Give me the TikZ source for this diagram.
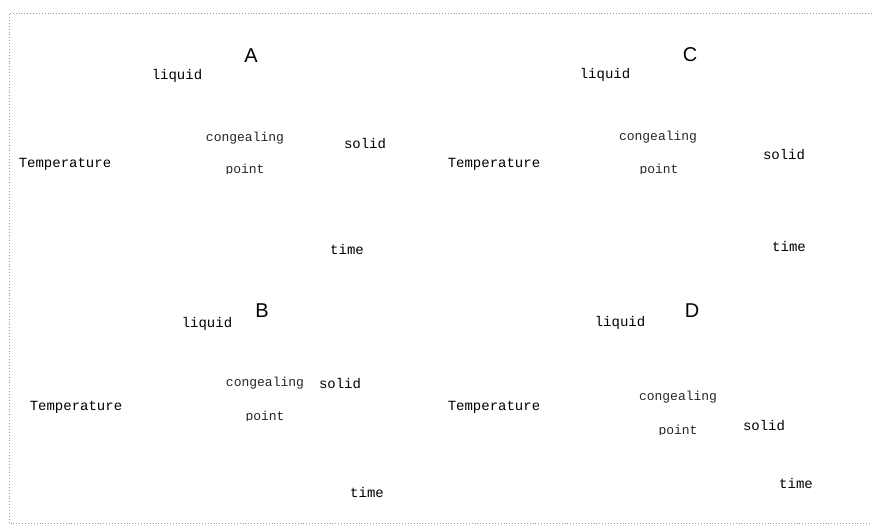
\documentclass[tikz,border=0pt]{standalone}
\usepackage{fontspec}
\setmainfont{Liberation Serif}
\newfontfamily\lblfont{Liberation Mono}
\newfontfamily\letfont{Liberation Sans}
\begin{document}
\begin{tikzpicture}[x=1pt,y=-1pt,
  lbl/.style={inner sep=0pt,font=\lblfont\fontsize{14}{16}\selectfont,text=black},
  smalllbl/.style={inner sep=0pt,font=\lblfont\fontsize{13}{15}\selectfont,text=black!85},
  letter/.style={inner sep=0pt,font=\letfont\fontsize{20}{22}\selectfont},
  frame/.style={draw=black!40,dotted,line width=0.9pt}]
\useasboundingbox (0,0) rectangle (872,526);
\draw[frame] (872,13) -- (9,13) -- (9,523) -- (872,523);
% ---------- A ----------
\node[letter] (lA) at (251,56) {A};
\node[lbl] (liqA) at (177,76) {liquid};
\node[smalllbl] (conA) at (245,138) {congealing};
\begin{scope}\clip (200,150) rectangle (290,174);
\node[smalllbl,anchor=base] (ptA) at (245,174) {point};
\end{scope}
\node[lbl] (solA) at (365,144) {solid};
\node[lbl] (tempA) at (65,164) {Temperature};
\node[lbl] (timeA) at (347,249) {time};
% ---------- C ----------
\node[letter] (lC) at (690,55) {C};
\node[lbl] (liqC) at (605,75) {liquid};
\node[smalllbl] (conC) at (658,137) {congealing};
\begin{scope}\clip (610,150) rectangle (710,174);
\node[smalllbl,anchor=base] (ptC) at (659,174) {point};
\end{scope}
\node[lbl] (solC) at (784,155) {solid};
\node[lbl] (tempC) at (494,164) {Temperature};
\node[lbl] (timeC) at (789,246) {time};
% ---------- B ----------
\node[letter] (lB) at (262,311) {B};
\node[lbl] (liqB) at (207,324) {liquid};
\node[smalllbl] (conB) at (265,383) {congealing};
\begin{scope}\clip (220,396) rectangle (310,420);
\node[smalllbl,anchor=base] (ptB) at (265,420) {point};
\end{scope}
\node[lbl] (solB) at (340,384) {solid};
\node[lbl] (tempB) at (76,407) {Temperature};
\node[lbl] (timeB) at (367,492) {time};
% ---------- D ----------
\node[letter] (lD) at (692,311) {D};
\node[lbl] (liqD) at (620,323) {liquid};
\node[smalllbl] (conD) at (678,397) {congealing};
\begin{scope}\clip (630,410) rectangle (725,434);
\node[smalllbl,anchor=base] (ptD) at (678,434) {point};
\end{scope}
\node[lbl] (solD) at (764,426) {solid};
\node[lbl] (tempD) at (494,407) {Temperature};
\node[lbl] (timeD) at (796,483) {time};
\end{tikzpicture}
\end{document}
